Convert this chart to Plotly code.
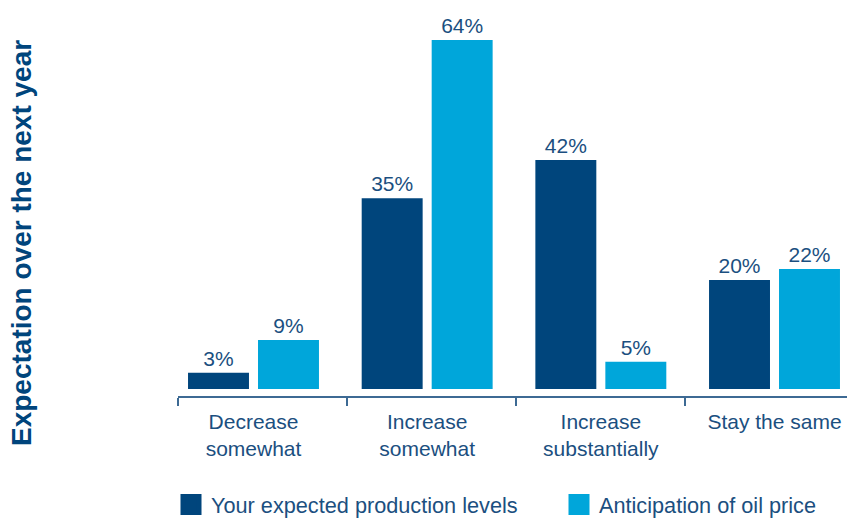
import plotly.graph_objects as go

# Survey responses: expectation over the next year (% of respondents)
categories = ["Decrease<br>somewhat", "Increase<br>somewhat",
              "Increase<br>substantially", "Stay the same"]
production_levels = [3, 35, 42, 20]
oil_price = [9, 64, 5, 22]
series_names = ["Your expected production levels", "Anticipation of oil price"]

DARK = "#00457c"
LIGHT = "#00a6da"
TEXT = "#1b4f80"
AXIS = "#3d6a94"
FONT = "Liberation Sans, Arial, sans-serif"

bar_w = 0.351
fig = go.Figure()
series = [(series_names[0], production_levels, DARK, -0.377, "legend"),
          (series_names[1], oil_price, LIGHT, 0.026, "legend2")]
for name, vals, color, off, leg in series:
    fig.add_trace(go.Bar(
        x=categories, y=vals, name=name, showlegend=False,
        marker=dict(color=color, line=dict(width=0)),
        width=bar_w, offset=off,
        text=[f"{v}%" for v in vals], textposition="outside",
        textfont=dict(family=FONT, size=21, color=TEXT),
        constraintext="none", cliponaxis=False,
    ))
    # legend entry with a larger square swatch
    fig.add_trace(go.Scatter(
        x=[None], y=[None], mode="markers", name=name, legend=leg,
        marker=dict(symbol="square", size=16, color=color,
                    line=dict(width=5, color=color)),
        hoverinfo="skip",
    ))

leg_style = dict(orientation="h", y=(396 - 505) / 386, yanchor="middle",
                 xanchor="left", font=dict(family=FONT, size=21.7, color=TEXT),
                 itemwidth=30, bgcolor="rgba(0,0,0,0)", borderwidth=0)

fig.update_layout(
    width=847, height=519,
    margin=dict(l=178, r=0, t=10, b=123, autoexpand=False),
    paper_bgcolor="white", plot_bgcolor="white",
    barmode="overlay",
    font=dict(family=FONT, size=21, color=TEXT),
    legend=dict(x=(171 - 178) / 669, **leg_style),
    legend2=dict(x=(559 - 178) / 669, **leg_style),
    xaxis=dict(
        type="category", range=[-0.4347, 3.4174],
        showline=True, linecolor=AXIS, linewidth=1.5,
        ticks="", showgrid=False, zeroline=False, ticklabelstandoff=6,
        tickfont=dict(family=FONT, size=21, color=TEXT),
        minor=dict(tickvals=[-0.435, 0.538, 1.511, 2.485], ticks="outside",
                   ticklen=8, tickwidth=1.5, tickcolor=AXIS, showgrid=False),
    ),
    yaxis=dict(range=[-1.28, 69.5], visible=False, showgrid=False, zeroline=False),
    annotations=[dict(
        text="<b>Expectation over the next year</b>", textangle=-90,
        xref="paper", yref="paper", x=(22 - 178) / 669, y=(396 - 243) / 386,
        xanchor="center", yanchor="middle", showarrow=False,
        font=dict(family=FONT, size=28, color=DARK),
    )],
)

fig.write_html("out.html")
